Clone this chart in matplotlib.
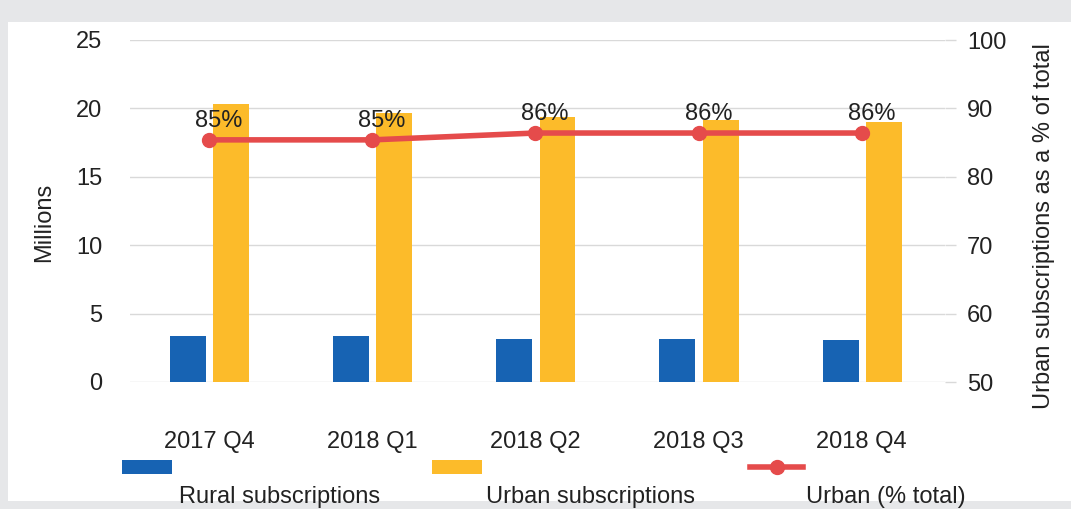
import matplotlib
matplotlib.use("Agg")
import matplotlib.pyplot as plt
from matplotlib.patches import Rectangle
from matplotlib.lines import Line2D
import numpy as np

categories = ["2017 Q4", "2018 Q1", "2018 Q2", "2018 Q3", "2018 Q4"]
rural = [3.35, 3.35, 3.15, 3.15, 3.05]
urban = [20.3, 19.7, 19.4, 19.15, 19.0]
urban_pct = [85.4, 85.4, 86.4, 86.4, 86.4]
pct_labels = ["85%", "85%", "86%", "86%", "86%"]
left_ticks = [0, 5, 10, 15, 20, 25]
right_ticks = [50, 60, 70, 80, 90, 100]

BLUE = "#1763b3"
GOLD = "#fcbb2a"
RED = "#e54b4b"
GRID = "#d9d9d9"
TXT = "#222222"
FS = 17

plt.rcParams['font.family'] = ['Liberation Sans', 'DejaVu Sans']

fig = plt.figure(figsize=(10.71, 5.09), dpi=100)
fig.patch.set_facecolor("#e6e7e9")
fig.add_artist(Rectangle((8/1071, 8/509), 1 - 8/1071, 1 - 30/509,
                         transform=fig.transFigure, facecolor="white",
                         edgecolor="none", zorder=0))

ax = fig.add_axes([130/1071, 1 - 382/509, (945-130)/1071, (382-40)/509])
ax.set_facecolor("none")
x = np.arange(len(categories))
w = 0.22
ax.bar(x - 0.13, rural, w, color=BLUE, zorder=3)
ax.bar(x + 0.135, urban, w, color=GOLD, zorder=3)
ax.set_ylim(0, 25)
ax.set_xlim(-0.485, 4.51)
ax.set_yticks(left_ticks)
ax.yaxis.grid(True, color=GRID, linewidth=1)
ax.set_axisbelow(True)
for s in ax.spines.values():
    s.set_visible(False)
ax.set_xticks(x)
ax.set_xticklabels(categories, fontsize=FS, color=TXT)
ax.tick_params(axis='x', length=0, pad=35)
ax.tick_params(axis='y', length=0, pad=20, labelsize=FS, labelcolor=TXT)
ax.set_ylabel("Millions", fontsize=FS, color=TXT)
ax.yaxis.set_label_coords(-0.092, 0.468)

ax2 = ax.twinx()
ax2.set_ylim(50, 100)
ax2.set_yticks(right_ticks)
for s in ax2.spines.values():
    s.set_visible(False)
ax2.tick_params(axis='y', length=8, width=1, color=GRID, pad=8,
                labelsize=FS, labelcolor=TXT)
ax2.plot(x, urban_pct, color=RED, linewidth=4, marker='o', markersize=10,
         zorder=5)
for xi, yi, lab in zip(x, urban_pct, pct_labels):
    ax2.annotate(lab, (xi, yi), xytext=(7, 6), textcoords='offset points',
                 ha='center', va='bottom', fontsize=FS, color=TXT)
ax2.set_ylabel("Urban subscriptions as a % of total", fontsize=FS,
               color=TXT)
ax2.yaxis.set_label_coords(1.108, 0.455)

# legend
fy = 1 - 467/509
hh = 14/509
for x0, col, lab, lx in [(122, BLUE, "Rural subscriptions", 280),
                         (432, GOLD, "Urban subscriptions", 590)]:
    fig.add_artist(Rectangle((x0/1071, fy - hh/2), 50/1071, hh,
                             transform=fig.transFigure, facecolor=col,
                             edgecolor="none"))
    fig.text(lx/1071, 1 - 497/509, lab, ha='center', va='center',
             fontsize=FS, color=TXT)
fig.add_artist(Line2D([750/1071, 803/1071], [fy, fy], color=RED,
                      linewidth=4, transform=fig.transFigure))
fig.add_artist(Line2D([777/1071], [fy], color=RED, marker='o',
                      markersize=10, transform=fig.transFigure))
fig.text(886/1071, 1 - 497/509, "Urban (% total)", ha='center',
         va='center', fontsize=FS, color=TXT)

fig.savefig("out.png", dpi=100, facecolor=fig.get_facecolor())
